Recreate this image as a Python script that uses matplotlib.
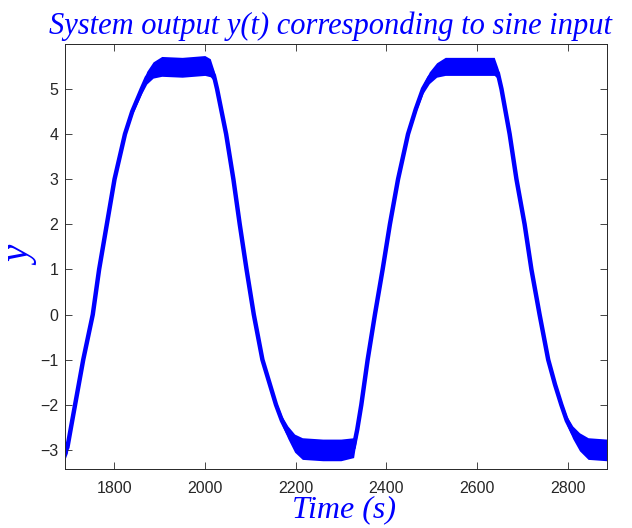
import matplotlib
matplotlib.use("Agg")
import matplotlib.pyplot as plt

# centre of the noisy trace
t = [1692, 1697, 1705, 1714, 1732, 1753, 1767, 1784, 1801, 1824, 1840, 1861,
     1872, 1886, 1905, 1950, 2000, 2012, 2020, 2027, 2047, 2063, 2077, 2092,
     2108, 2127, 2145, 2157, 2170, 2183, 2198, 2215, 2260, 2300, 2328, 2336,
     2345, 2359, 2375, 2392, 2408, 2426, 2448, 2465, 2481, 2495, 2511, 2530,
     2580, 2638, 2646, 2654, 2672, 2687, 2705, 2720, 2738, 2757, 2772, 2786,
     2798, 2811, 2826, 2845, 2886]
y = [-3.0, -2.95, -2.5, -2.0, -1.0, 0.0, 1.0, 2.0, 3.0, 4.0, 4.5, 5.0,
     5.25, 5.42, 5.5, 5.48, 5.52, 5.47, 5.3, 5.0, 4.0, 3.0, 2.0, 1.0,
     0.0, -1.0, -1.6, -2.0, -2.35, -2.61, -2.85, -2.97, -3.0, -3.0, -2.95, -2.55,
     -2.0, -1.0, 0.0, 1.0, 2.0, 3.0, 4.0, 4.55, 5.0, 5.25, 5.42, 5.5,
     5.5, 5.5, 5.35, 5.0, 4.0, 3.0, 2.0, 1.0, 0.0, -1.0, -1.55, -2.0,
     -2.35, -2.61, -2.82, -2.97, -3.0]
# half height of the noise band around the trace
band = [0.2, 0.12, 0.05, 0.04, 0.04, 0.04, 0.04, 0.04, 0.04, 0.05, 0.07, 0.1,
        0.14, 0.18, 0.22, 0.22, 0.22, 0.2, 0.12, 0.06, 0.04, 0.04, 0.04, 0.04,
        0.04, 0.05, 0.06, 0.08, 0.1, 0.14, 0.2, 0.24, 0.24, 0.24, 0.22, 0.1,
        0.05, 0.04, 0.04, 0.04, 0.04, 0.04, 0.05, 0.07, 0.1, 0.13, 0.16, 0.2,
        0.2, 0.2, 0.12, 0.06, 0.04, 0.04, 0.04, 0.04, 0.04, 0.05, 0.06, 0.08,
        0.1, 0.14, 0.2, 0.24, 0.24]

xticks = [1800, 2000, 2200, 2400, 2600, 2800]
yticks = [-3, -2, -1, 0, 1, 2, 3, 4, 5]

blue = (0, 0, 1)
grey = "#262626"
serif = {"family": "Liberation Serif", "style": "italic", "color": blue}

fig = plt.figure(figsize=(6.32, 5.28), dpi=100)
ax = fig.add_axes([0.103, 0.112, 0.857, 0.805])

lo = [a - b for a, b in zip(y, band)]
hi = [a + b for a, b in zip(y, band)]
ax.fill_between(t, lo, hi, color=blue, lw=0)
ax.plot(t, y, color=blue, lw=3.2, solid_joinstyle="round")

ax.set_xlim(1692, 2886)
ax.set_ylim(-3.42, 6.0)
ax.set_xticks(xticks)
ax.set_yticks(yticks)
ax.tick_params(direction="in", top=True, right=True, length=5, width=0.6,
               colors=grey, labelsize=11.5)
ax.tick_params(axis="x", pad=9)
ax.tick_params(axis="y", pad=5)
for s in ax.spines.values():
    s.set_color(grey)
    s.set_linewidth(0.7)
for lab in ax.get_xticklabels() + ax.get_yticklabels():
    lab.set_fontfamily("Liberation Sans")

ax.set_title("System output y(t) corresponding to sine input", fontsize=22,
             pad=7, x=0.49, **serif)
ax.set_xlabel("Time (s)", fontsize=23, **serif)
ax.xaxis.set_label_coords(0.515, -0.062)
ax.set_ylabel("y", fontsize=28, **serif)
ax.yaxis.set_label_coords(-0.045, 0.5)

fig.savefig("out.png", dpi=100)
